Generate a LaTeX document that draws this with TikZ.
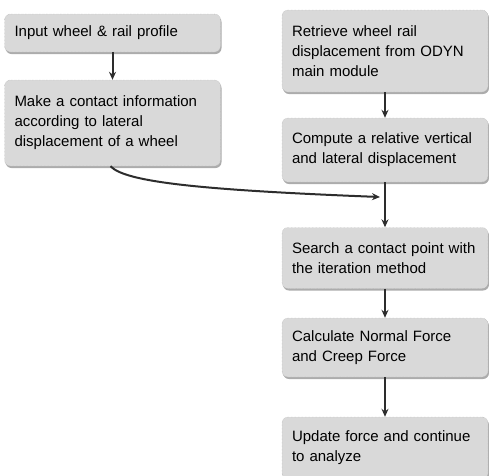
\documentclass[tikz,border=0pt]{standalone}
\usepackage{fontspec}
\setmainfont{Liberation Sans}
\usetikzlibrary{arrows.meta,shadows}
\begin{document}
\begin{tikzpicture}[x=1pt,y=-1pt,
  flowbox/.style={draw=gray!70, densely dotted, fill=gray!30, rounded corners=6pt,
    align=left, inner xsep=10pt, inner ysep=0pt,
    font=\fontsize{15pt}{20pt}\selectfont,
    drop shadow={shadow xshift=1pt, shadow yshift=-2pt, fill=gray!65, opacity=1}},
  leftbox/.style={flowbox, text width=196pt, minimum width=216pt},
  rightbox/.style={flowbox, text width=186pt, minimum width=206pt},
  flow/.style={draw=gray!35!black, line width=2pt, -{Stealth[length=8pt,width=7pt]}}]
\useasboundingbox (0,0) rectangle (489,475);
\node[leftbox, minimum height=38pt] (b1) at (112.5,33) {Input wheel \& rail profile};
\node[leftbox, minimum height=86pt] (b2) at (112.5,123) {Make a contact information\\according to lateral\\displacement of a wheel};
\node[rightbox, minimum height=82pt] (b3) at (385,51) {Retrieve wheel rail\\displacement from ODYN\\main module};
\node[rightbox, minimum height=64pt] (b4) at (385,150) {Compute a relative vertical\\and lateral displacement};
\node[rightbox, minimum height=61pt] (b5) at (385,258) {Search a contact point with\\the iteration method};
\node[rightbox, minimum height=59pt] (b6) at (385,347.5) {Calculate Normal Force\\and Creep Force};
\node[rightbox, minimum height=62pt] (b7) at (385,448) {Update force and continue\\to analyze};
\coordinate (join) at (380,197);
\draw[flow] (b1) -- (b2);
\draw[flow] (b3) -- (b4);
\draw[flow] (b4) -- (b5);
\draw[flow] (b5) -- (b6);
\draw[flow] (b6) -- (b7);
\draw[flow] ([xshift=-2pt]b2.south) .. controls (125,182) and (200,190) .. (join);
\end{tikzpicture}
\end{document}
